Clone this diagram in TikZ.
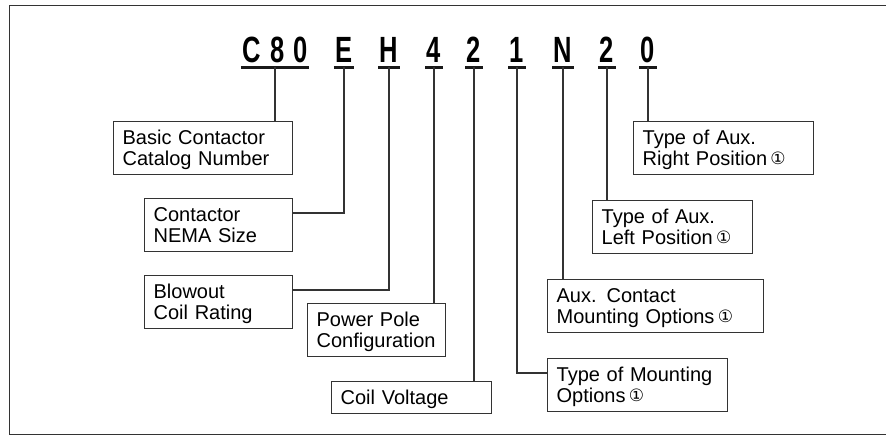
\documentclass[tikz,border=0pt]{standalone}
\usepackage{fontspec}
\setmainfont{Liberation Sans}
\newfontfamily\codefont[FakeStretch=0.7]{Liberation Sans}
\newfontfamily\symfont{DejaVu Sans}
\newcommand{\fnote}{\,{\symfont\fontsize{17}{17}\selectfont\raisebox{1pt}{①}}}
\tikzset{
  code/.style={font=\codefont\bfseries\fontsize{36.5}{36}\selectfont, anchor=base, inner xsep=1.5pt, inner ysep=0pt},
  uline/.style={line width=3pt, black!90},
  link/.style={line width=1.2pt, black!80},
  box/.style={draw=black!80, line width=1.3pt, anchor=north west, align=left, inner xsep=9pt, inner ysep=4pt,
    font=\fontsize{20}{21}\selectfont,
    execute at begin node={\noindent\rule{0pt}{19pt}}, execute at end node={\rule[-4.7pt]{0pt}{4.7pt}}},
  frame/.style={line width=1.8pt, black!80}
}
\begin{document}
\begin{tikzpicture}[x=1pt,y=1pt]
\useasboundingbox (0,0) rectangle (886,437);
\draw[frame] (886,431.5) -- (9.5,431.5) -- (9.5,2.5) -- (886,2.5);

\node[code] (cC) at (275,374) {C\kern9pt8\kern9pt0};
\foreach \n/\x/\t in {cE/344/E,cH/389/H,cF/434/4,cP/474/2,cM/517/1,cN/563/N,cL/607/2,cR/648/0}
  \node[code] (\n) at (\x,374) {\t};
\foreach \n in {cC,cE,cH,cF,cP,cM,cN,cL,cR}
  \draw[uline] ([yshift=-4.5pt]\n.base west) -- ([yshift=-4.5pt]\n.base east);

\node[box, text width=161pt] (bBasic) at (113,316) {Basic Contactor\\Catalog Number};
\node[box, text width=130pt] (bSize) at (144,239) {Contactor\\NEMA Size};
\node[box, text width=130pt] (bCoil) at (144,162) {Blowout\\Coil Rating};
\node[box, text width=120pt] (bPole) at (307,134) {Power Pole\\Configuration};
\node[box, text width=142pt] (bVolt) at (331,56) {Coil Voltage};
\node[box, text width=162pt] (bMount) at (547,79) {Type of Mounting\\Options\fnote};
\node[box, text width=198pt] (bAux) at (547,158) {Aux. Contact\\Mounting Options\fnote};
\node[box, text width=142pt] (bLeft) at (592,237) {Type of Aux.\\Left Position\fnote};
\node[box, text width=162pt] (bRight) at (633,316) {Type of Aux.\\Right Position\fnote};

\draw[link] ([yshift=-4.5pt]cC.base) -- (cC |- bBasic.north);
\draw[link] ([yshift=-4.5pt]cE.base) |- ([yshift=-15pt]bSize.north east);
\draw[link] ([yshift=-4.5pt]cH.base) |- ([yshift=-15pt]bCoil.north east);
\draw[link] ([yshift=-4.5pt]cF.base) -- (cF |- bPole.north);
\draw[link] ([yshift=-4.5pt]cP.base) -- (cP |- bVolt.north);
\draw[link] ([yshift=-4.5pt]cM.base) |- ([yshift=-15pt]bMount.north west);
\draw[link] ([yshift=-4.5pt]cN.base) -- (cN |- bAux.north);
\draw[link] ([yshift=-4.5pt]cL.base) -- (cL |- bLeft.north);
\draw[link] ([yshift=-4.5pt]cR.base) -- (cR |- bRight.north);
\end{tikzpicture}
\end{document}
